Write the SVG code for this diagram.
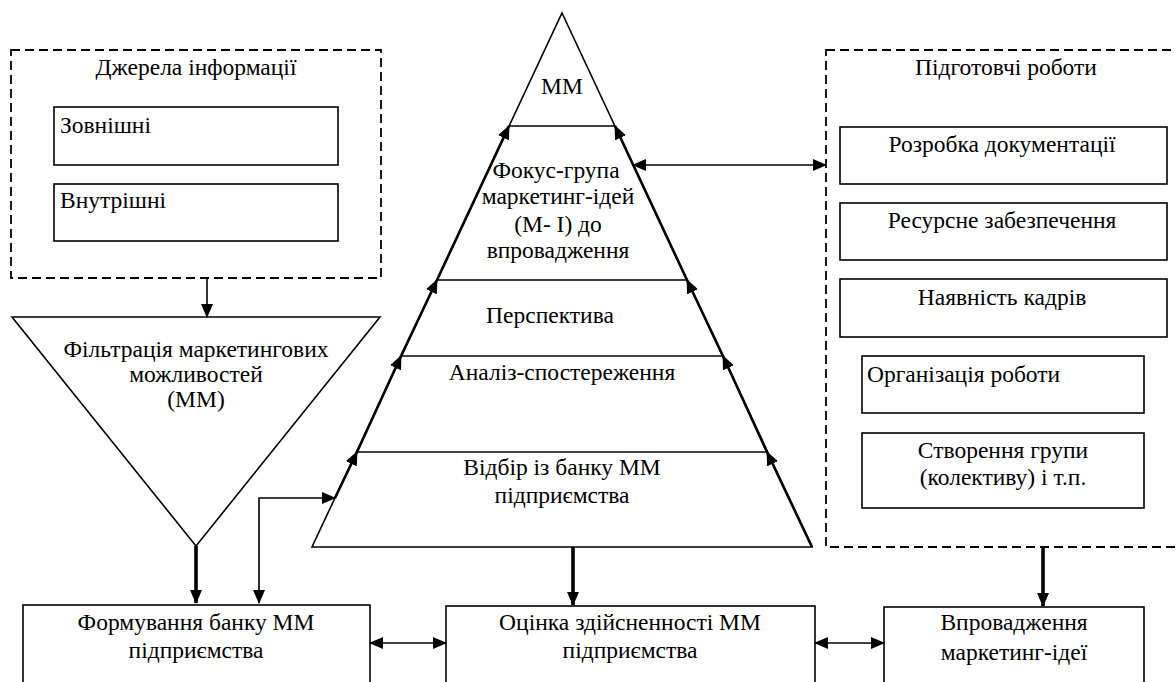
<svg xmlns="http://www.w3.org/2000/svg" width="1176" height="682" viewBox="0 0 1176 682" font-family="Liberation Serif, Times New Roman, serif">
<defs>
<style>
.t{font-family:'Liberation Serif','Times New Roman',serif;font-size:23.5px;fill:#000}
.c{text-anchor:middle}
.box{fill:#fff;stroke:#000;stroke-width:1.6}
.dash{fill:none;stroke:#000;stroke-width:1.8;stroke-dasharray:9,5}
.ln{fill:none;stroke:#000;stroke-width:1.6}
.ar{fill:none;stroke:#000;stroke-width:1.6;marker-end:url(#ah)}
.ar2{fill:none;stroke:#000;stroke-width:1.6;marker-start:url(#ah);marker-end:url(#ah)}
.side{fill:none;stroke:#000;stroke-width:2.6;marker-end:url(#ah)}
.thick{fill:none;stroke:#000;stroke-width:3.6;marker-end:url(#ah)}
</style>
<marker id="ah" viewBox="0 0 14 12" refX="13" refY="6" markerWidth="14" markerHeight="12" markerUnits="userSpaceOnUse" orient="auto-start-reverse">
<path d="M0,0 L14,6 L0,12 z" fill="#000"/>
</marker>
</defs>
<rect width="1176" height="682" fill="#fff"/>
<g id="sources">
<rect class="dash" x="11" y="50" width="370" height="228"/>
<text class="t c" x="196" y="75">Джерела інформації</text>
</g>
<g id="external">
<rect class="box" x="54" y="107" width="284" height="58"/>
<text class="t" x="60" y="133">Зовнішні</text>
</g>
<g id="internal">
<rect class="box" x="54" y="184" width="284" height="57"/>
<text class="t" x="60" y="208">Внутрішні</text>
</g>

<g id="filter">
<polygon class="box" points="12,317 380,317 196,546"/>
<text class="t c" x="196" y="357">Фільтрація маркетингових</text>
<text class="t c" x="196" y="382">можливостей</text>
<text class="t c" x="196" y="407">(ММ)</text>
</g>

<g id="pyramid">
<polygon class="box" points="562,13 812,547 312,547"/>
<line class="ln" x1="509" y1="126" x2="615" y2="126"/>
<line class="ln" x1="437" y1="280" x2="687" y2="280"/>
<line class="ln" x1="401" y1="356" x2="723" y2="356"/>
<line class="ln" x1="357" y1="452" x2="767" y2="452"/>
<text class="t c" x="562" y="94">ММ</text>
<text class="t c" x="556" y="178">Фокус-група</text>
<text class="t c" x="558" y="204">маркетинг-ідей</text>
<text class="t c" x="558" y="232">(М- І) до</text>
<text class="t c" x="558" y="258">впровадження</text>
<text class="t c" x="550" y="323">Перспектива</text>
<text class="t c" x="562" y="380">Аналіз-спостереження</text>
<text class="t c" x="562" y="475">Відбір із банку ММ</text>
<text class="t c" x="562" y="503">підприємства</text>
</g>

<g id="prep">
<rect class="dash" x="826" y="50" width="360" height="497"/>
<text class="t c" x="1006" y="75">Підготовчі роботи</text>
</g>
<g id="docs">
<rect class="box" x="840" y="127" width="327" height="57"/>
<text class="t c" x="1002" y="152">Розробка документації</text>
</g>
<g id="resources">
<rect class="box" x="840" y="203" width="327" height="57"/>
<text class="t c" x="1002" y="228">Ресурсне забезпечення</text>
</g>
<g id="staff">
<rect class="box" x="840" y="279" width="327" height="58"/>
<text class="t c" x="1002" y="305">Наявність кадрів</text>
</g>
<g id="organization">
<rect class="box" x="862" y="356" width="282" height="57"/>
<text class="t" x="867" y="382">Організація роботи</text>
</g>
<g id="team">
<rect class="box" x="862" y="433" width="282" height="75"/>
<text class="t c" x="1003" y="458">Створення групи</text>
<text class="t c" x="1003" y="485">(колективу) і т.п.</text>
</g>

<g id="bank">
<rect class="box" x="23" y="605" width="347" height="90"/>
<text class="t c" x="196" y="630">Формування банку ММ</text>
<text class="t c" x="196" y="658">підприємства</text>
</g>
<g id="evaluation">
<rect class="box" x="446" y="606" width="369" height="90"/>
<text class="t c" x="630" y="630">Оцінка здійсненності ММ</text>
<text class="t c" x="630" y="658">підприємства</text>
</g>
<g id="implementation">
<rect class="box" x="884" y="607" width="260" height="90"/>
<text class="t c" x="1014" y="630">Впровадження</text>
<text class="t c" x="1014" y="660">маркетинг-ідеї</text>
</g>

<g id="connectors">
<line class="ar" x1="207" y1="278" x2="207" y2="317"/>
<line class="thick" x1="196" y1="546" x2="196" y2="603"/>
<path class="ar2" d="M259,603 V498 H335"/>
<line class="thick" x1="573" y1="547" x2="573" y2="605"/>
<line class="thick" x1="1043" y1="547" x2="1043" y2="606"/>
<line class="ar2" x1="370" y1="643" x2="446" y2="643"/>
<line class="ar2" x1="815" y1="643" x2="884" y2="643"/>
<line class="ar2" x1="633" y1="165" x2="826" y2="165"/>
<line class="side" x1="335" y1="498" x2="357" y2="452"/>
<line class="side" x1="357" y1="452" x2="401" y2="356"/>
<line class="side" x1="401" y1="356" x2="437" y2="280"/>
<line class="side" x1="437" y1="280" x2="509" y2="126"/>
<line class="side" x1="812" y1="547" x2="767" y2="452"/>
<line class="side" x1="767" y1="452" x2="723" y2="356"/>
<line class="side" x1="723" y1="356" x2="687" y2="280"/>
<line class="side" x1="687" y1="280" x2="615" y2="126"/>
</g>
</svg>
